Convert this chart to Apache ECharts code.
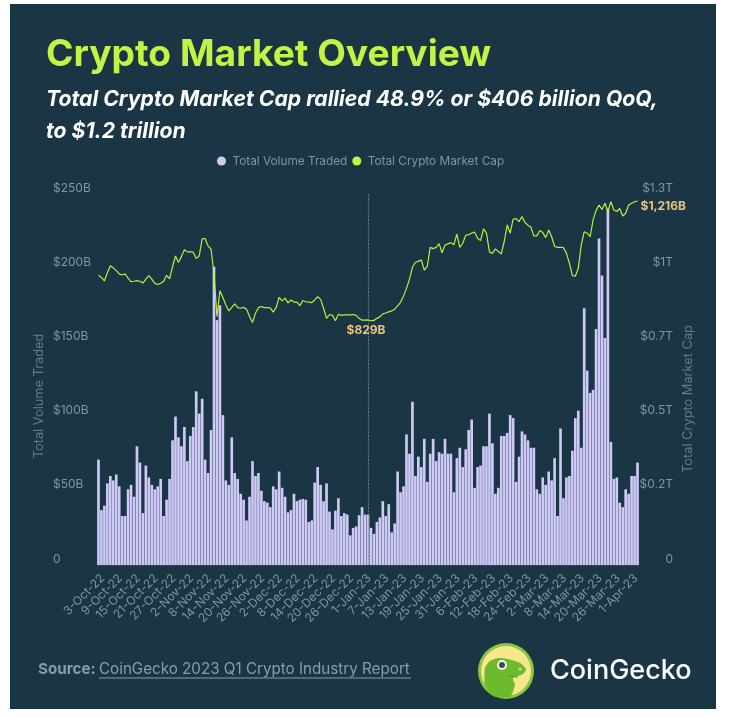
<!DOCTYPE html>
<html style="height: 100%">
<head>
<meta charset="utf-8">
<style>
  body { margin: 0; background: #ffffff; }
  #panel { position: absolute; left: 10px; top: 4px; width: 706px; height: 705px; background: #1a3644; }
  #container { position: absolute; left: 0; top: 0; width: 729px; height: 717px; }
</style>
</head>
<body>
<div id="panel"></div>
<div id="container"></div>
<script src="https://cdn.jsdelivr.net/npm/echarts@6/dist/echarts.min.js"></script>
<script>
var volume = [
  71,37,40,55,60,57,61,53,33,33, 51,54,46,80,69,35,67,59,54,51,
  53,58,33,44,58,84,100,86,80,93, 70,87,93,117,102,112,71,62,91,201,
  165,175,101,57,54,86,62,58,48,44, 30,46,70,60,62,50,43,42,39,53,
  51,63,52,46,35.5,37,48,43,44,44.5, 44,29,30,55.5,66,54,43,55,36,24,
  36.6,45,33,35,34,20,25,26,33.5,39, 34,34,25,21,29,32,43,33,41,22,
  28,63,49,53,88,75,110,60,73,66, 85,56,75,85,70,76,75,85,75,75,
  49,72,79,66,78,91,98,52,66,67, 80,80,102,82,48,52,87,87,89,101,
  99,56,73,90,88,84,79,79,51,48, 59,54,63,57,72,33,92,45,59,60,
  77,99,104,79,173,131,116,118,159,220, 195,153,240,83,58,59,42,39,51,48,
  60,60,69
];
var marketCap = [
  976,969,957,985,1008,1001,992,981,977,981, 966,955,956,958,956,950,963,975,963,949,
  945,949,956,976,964,1005,1041,1019,1039,1062, 1055,1055,1054,1033,1041,1099,1100,1075,1064,983,
  837,924,901,876,856,868,880,867,865,868, 862,837,817,848,867,871,867,867,866,852,
  868,902,890,899,883,893,886,886,874,891, 887,886,884,893,904,895,865,831,844,841,
  823,845,841,843,843,843,844,841,831,825, 825,826,823,824,831,836,846,849,853,856,
  862,873,885,906,932,963,1003,1020,1023,1028, 994,1005,1070,1066,1070,1083,1052,1078,1082,1086,
  1079,1115,1070,1084,1111,1113,1118,1122,1101,1093, 1133,1118,1055,1050,1065,1056,1048,1090,1146,1118,
  1165,1167,1157,1174,1154,1145,1138,1109,1109,1127, 1120,1103,1129,1106,1073,1070,1070,1069,1050,1017,
  975,973,1000,1078,1123,1118,1106,1163,1194,1213, 1198,1219,1191,1224,1196,1191,1201,1176,1185,1213,
  1219,1224,1226
];
var leftTicks = ['0', '$50B', '$100B', '$150B', '$200B', '$250B'];
var rightTicks = ['0', '$0.2T', '$0.5T', '$0.7T', '$1T', '$1.3T'];
var lowLabel = '$829B';
var endLabel = '$1,216B';
var lowDay = '2-Jan-23';

// one category per day, 3-Oct-22 onwards
var monthNames = ['Jan','Feb','Mar','Apr','May','Jun','Jul','Aug','Sep','Oct','Nov','Dec'];
var days = [];
for (var i = 0; i < volume.length; i++) {
  var d = new Date(Date.UTC(2022, 9, 3 + i));
  days.push(d.getUTCDate() + '-' + monthNames[d.getUTCMonth()] + '-' + String(d.getUTCFullYear()).slice(2));
}

var fontName = 'Inter';
var axisGrey = '#7b979f';
var nameGrey = '#5f7d87';
var chart = echarts.init(document.getElementById('container'), null, { renderer: 'canvas' });

var option = {
  animation: false,
  textStyle: { fontFamily: fontName },
  title: [
    { text: 'Crypto Market Overview', left: 46, top: 36, padding: 0,
      textStyle: { color: '#c4f245', fontSize: 37.2, fontWeight: 700, fontFamily: fontName } },
    { text: 'Total Crypto Market Cap rallied 48.9% or $406 billion QoQ,', left: 46, top: 89, padding: 0,
      textStyle: { color: '#ffffff', fontSize: 21.2, fontWeight: 700, fontStyle: 'italic', fontFamily: fontName } },
    { text: 'to $1.2 trillion', left: 46, top: 121, padding: 0,
      textStyle: { color: '#ffffff', fontSize: 21.2, fontWeight: 700, fontStyle: 'italic', fontFamily: fontName } }
  ],
  legend: {
    top: 155, left: 217, padding: 0, icon: 'circle', itemWidth: 12, itemHeight: 9, itemGap: 5,
    textStyle: { color: '#7b979f', fontSize: 11.8, fontFamily: fontName },
    data: ['Total Volume Traded', 'Total Crypto Market Cap']
  },
  grid: { left: 97, right: 90, top: 194, bottom: 152 },
  xAxis: {
    type: 'category',
    data: days,
    axisLine: { show: true, lineStyle: { color: '#2b4755' } },
    axisTick: { show: false },
    axisLabel: { interval: 5, rotate: 45, color: axisGrey, fontSize: 12, margin: 7, verticalAlign: 'top' }
  },
  yAxis: [
    {
      type: 'value', min: 0, max: 250, interval: 50,
      splitLine: { show: false },
      axisLabel: {
        align: 'left', verticalAlign: 'bottom', margin: 44, color: axisGrey, fontSize: 12,
        formatter: function (v, idx) { return leftTicks[idx]; }
      }
    },
    {
      type: 'value', min: 0, max: 1250, interval: 250,
      splitLine: { show: false },
      axisLabel: {
        align: 'right', verticalAlign: 'bottom', margin: 34, color: axisGrey, fontSize: 12,
        formatter: function (v, idx) { return rightTicks[idx]; }
      }
    }
  ],
  series: [
    {
      name: 'Total Volume Traded',
      type: 'bar',
      data: volume,
      barCategoryGap: '10%',
      itemStyle: { color: '#cfc9f8' }
    },
    {
      name: 'Total Crypto Market Cap',
      type: 'line',
      yAxisIndex: 1,
      data: marketCap,
      showSymbol: false,
      itemStyle: { color: '#c4f245' },
      lineStyle: { color: '#b9ee3c', width: 1.2 },
      markLine: {
        silent: true, symbol: 'none', label: { show: false },
        lineStyle: { color: '#6f8d98', type: 'dotted', width: 1.2 },
        data: [{ xAxis: lowDay }]
      },
      markPoint: {
        silent: true, symbol: 'circle', symbolSize: 0,
        data: [
          { coord: [lowDay, marketCap[days.indexOf(lowDay)]],
            label: { show: true, formatter: lowLabel, position: 'bottom', distance: 5, offset: [-2, 0],
              color: '#e8c27a', fontSize: 12, fontWeight: 700 } },
          { coord: [days[days.length - 1], marketCap[marketCap.length - 1]],
            label: { show: true, formatter: endLabel, position: 'right', distance: 3, offset: [0, 5],
              color: '#e8c27a', fontSize: 12, fontWeight: 700 } }
        ]
      }
    }
  ],
  graphic: [
    { type: 'text', x: 39, y: 396, rotation: Math.PI / 2,
      style: { text: 'Total Volume Traded', fill: nameGrey, fontSize: 12.8, fontFamily: fontName, align: 'center', verticalAlign: 'middle' } },
    { type: 'text', x: 688, y: 399, rotation: Math.PI / 2,
      style: { text: 'Total Crypto Market Cap', fill: nameGrey, fontSize: 12.8, fontFamily: fontName, align: 'center', verticalAlign: 'middle' } },
    { type: 'text', left: 38, top: 662, style: { text: 'Source:', fill: '#83a0a6', fontSize: 15.2, fontWeight: 700, fontFamily: fontName } },
    { type: 'text', left: 99, top: 662, style: { text: 'CoinGecko 2023 Q1 Crypto Industry Report', fill: '#83a0a6', fontSize: 15.2, fontFamily: fontName } },
    { type: 'line', shape: { x1: 99, y1: 678, x2: 411, y2: 678 }, style: { stroke: '#83a0a6', lineWidth: 1 } },
    // logo
    { type: 'circle', shape: { cx: 506, cy: 671, r: 28 }, style: { fill: '#8cc63f' } },
    { type: 'circle', shape: { cx: 506, cy: 671, r: 25 }, style: { fill: '#f6e68c' } },
    { type: 'polygon', shape: { smooth: 0.2, points: [[485,668],[490,661],[498,658],[508,659],[520,663],[526,669],[523,674],[513,678],[515,685],[510,697],[493,696],[485,685]] }, style: { fill: '#6dbb2c' } },
    { type: 'circle', shape: { cx: 502, cy: 665, r: 5 }, style: { fill: '#f4f4ee' } },
    { type: 'circle', shape: { cx: 502, cy: 665, r: 3 }, style: { fill: '#3c4a55' } },
    { type: 'circle', shape: { cx: 520, cy: 669, r: 1.5 }, style: { fill: '#c6ea8a' } },
    { type: 'line', shape: { x1: 508, y1: 676, x2: 518, y2: 677 }, style: { stroke: '#4e9a20', lineWidth: 1 } },
    { type: 'text', left: 550, top: 657, style: { text: 'CoinGecko', fill: '#ffffff', fontSize: 27, fontWeight: 500, fontFamily: fontName } }
  ]
};

chart.setOption(option);
</script>
</body>
</html>
